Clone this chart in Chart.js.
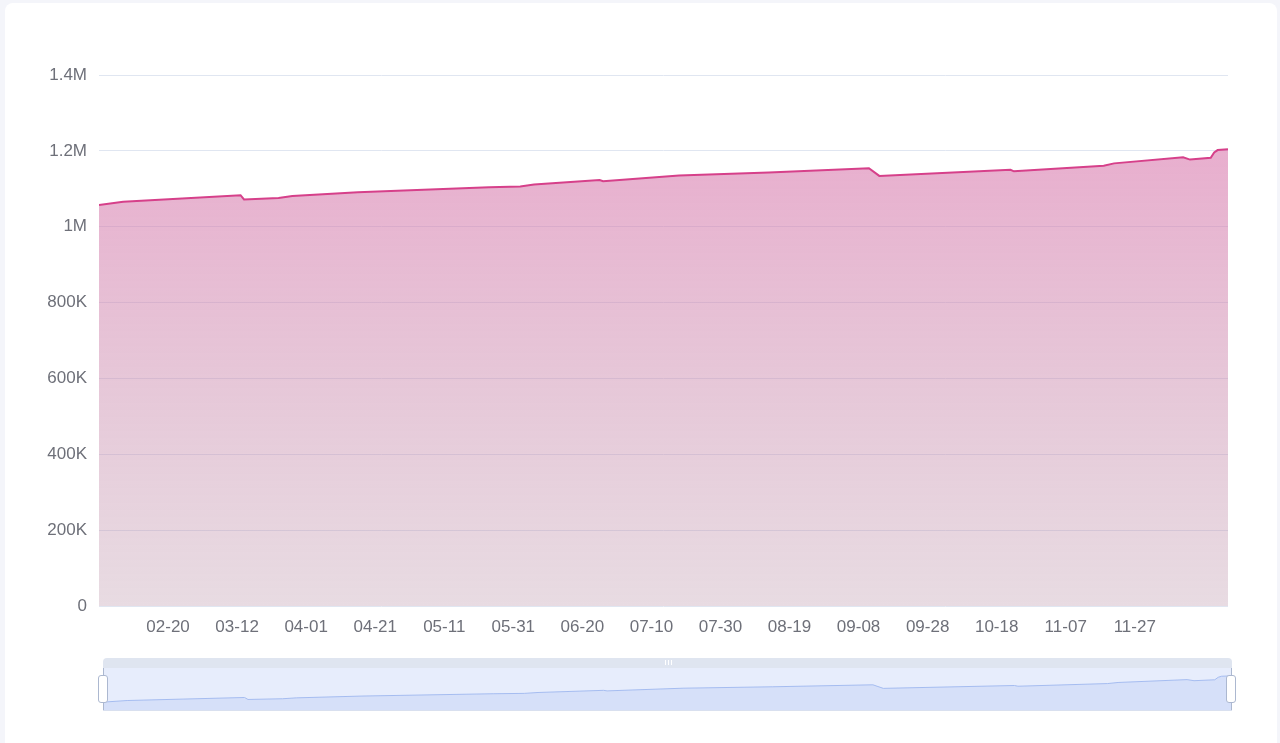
<!DOCTYPE html>
<html>
<head>
<meta charset="utf-8">
<title>Daily total</title>
<script src="https://cdn.jsdelivr.net/npm/chart.js@4.4.1/dist/chart.umd.min.js"></script>
<style>
  html, body { margin: 0; padding: 0; width: 1280px; height: 743px; overflow: hidden; background: #f4f5fa; }
  .card { position: absolute; left: 5px; top: 3px; width: 1272px; height: 760px; background: #fff; border-radius: 8px; }
  #main { position: absolute; left: 0; top: 0; }
  .zoom-bar { position: absolute; left: 103px; top: 658px; width: 1129px; height: 10px; background: #dfe5f0; border-radius: 4px 4px 0 0; }
  .grip { position: absolute; top: 2px; width: 1px; height: 5px; background: #fff; }
  .zoom-body { position: absolute; left: 103px; top: 668px; width: 1129px; height: 42px; background: #e7edfc; border-bottom: 1px solid #d9e0ef; }
  #mini { position: absolute; left: 0; top: 0; }
  .edge { position: absolute; top: 668px; width: 1px; height: 42px; background: #acb8d0; }
  .handle { position: absolute; top: 675px; width: 8px; height: 26px; background: #fff; border: 1px solid #acb8d0; border-radius: 3px; }
</style>
</head>
<body>
<div class="card"></div>
<canvas id="main" width="1280" height="650"></canvas>

<div class="zoom-bar">
  <div class="grip" style="left:562px"></div>
  <div class="grip" style="left:565px"></div>
  <div class="grip" style="left:568px"></div>
</div>
<div class="zoom-body"><canvas id="mini" width="1129" height="42"></canvas></div>
<div class="edge" style="left:103px"></div>
<div class="edge" style="left:1231px"></div>
<div class="handle" style="left:98px"></div>
<div class="handle" style="left:1226px"></div>

<script>
// ── Data: day index (0 = 01-31) and running total ──
const days  = [0, 7, 41, 42, 52, 56, 75, 113, 122, 126, 145, 146, 168, 194, 223, 226, 264, 265, 291, 294, 314, 316, 322, 323, 324, 327];
const users = [1057000, 1066000, 1083000, 1072000, 1076000, 1081000, 1091000, 1104000, 1106000, 1111000,
               1123000, 1120000, 1135000, 1143000, 1154000, 1134000, 1150000, 1146000, 1161000, 1167000,
               1183000, 1177000, 1182000, 1196000, 1202000, 1204000];

// ── Axis ticks ──
const tickDays   = [20, 40, 60, 80, 100, 120, 140, 160, 180, 200, 220, 240, 260, 280, 300];
const tickLabels = ['02-20', '03-12', '04-01', '04-21', '05-11', '05-31', '06-20', '07-10',
                    '07-30', '08-19', '09-08', '09-28', '10-18', '11-07', '11-27'];
const yTickValues = [0, 200000, 400000, 600000, 800000, 1000000, 1200000, 1400000];
const yTickLabels = ['0', '200K', '400K', '600K', '800K', '1M', '1.2M', '1.4M'];

(function () {
  'use strict';

  const FONT = { family: "'Liberation Sans', Arial, sans-serif", size: 17 };
  const points = days.map((d, i) => ({ x: d, y: users[i] }));
  const lastDay = days[days.length - 1];

  // ── Main area chart ──
  new Chart(document.getElementById('main'), {
    type: 'line',
    data: {
      datasets: [{
        data: points,
        borderColor: '#d6408a',
        borderWidth: 2,
        pointRadius: 0,
        tension: 0,
        fill: 'origin',
        backgroundColor(ctx) {
          const { chart } = ctx;
          const { chartArea, scales } = chart;
          if (!chartArea) return 'rgba(217,120,173,0.6)';
          const top = scales.y.getPixelForValue(Math.max(...users));
          const g = chart.ctx.createLinearGradient(0, top, 0, chartArea.bottom);
          g.addColorStop(0, 'rgba(217,120,173,0.6)');
          g.addColorStop(1, 'rgba(189,152,172,0.35)');
          return g;
        },
      }],
    },
    options: {
      responsive: false,
      animation: false,
      layout: { padding: { left: 0, right: 52, top: 75, bottom: 0 } },
      plugins: { legend: { display: false }, tooltip: { enabled: false } },
      scales: {
        x: {
          type: 'linear',
          min: 0,
          max: lastDay,
          grid: { display: false, drawTicks: false },
          border: { display: false },
          afterBuildTicks: s => { s.ticks = tickDays.map(v => ({ value: v })); },
          afterFit: s => { s.height = 44; },
          ticks: {
            autoSkip: false,
            maxRotation: 0,
            padding: 11,
            color: '#6e7079',
            font: FONT,
            callback: v => tickLabels[tickDays.indexOf(v)],
          },
        },
        y: {
          min: 0,
          max: 1400000,
          grid: { color: '#e0e6f1', drawTicks: false },
          border: { display: false },
          afterBuildTicks: s => { s.ticks = yTickValues.map(v => ({ value: v })); },
          afterFit: s => { s.width = 99; },
          ticks: {
            padding: 12,
            color: '#6e7079',
            font: FONT,
            callback: v => yTickLabels[yTickValues.indexOf(v)],
          },
        },
      },
    },
  });

  // ── Data-zoom shadow ──
  new Chart(document.getElementById('mini'), {
    type: 'line',
    data: {
      datasets: [{
        data: points,
        borderColor: '#a5bcf0',
        borderWidth: 1,
        pointRadius: 0,
        fill: 'start',
        backgroundColor: '#d6e0f9',
      }],
    },
    options: {
      responsive: false,
      animation: false,
      layout: { padding: 0 },
      plugins: { legend: { display: false }, tooltip: { enabled: false } },
      scales: {
        x: { type: 'linear', min: 0, max: lastDay, display: false },
        y: { min: 1013000, max: 1248000, display: false },
      },
    },
  });
})();
</script>
</body>
</html>
